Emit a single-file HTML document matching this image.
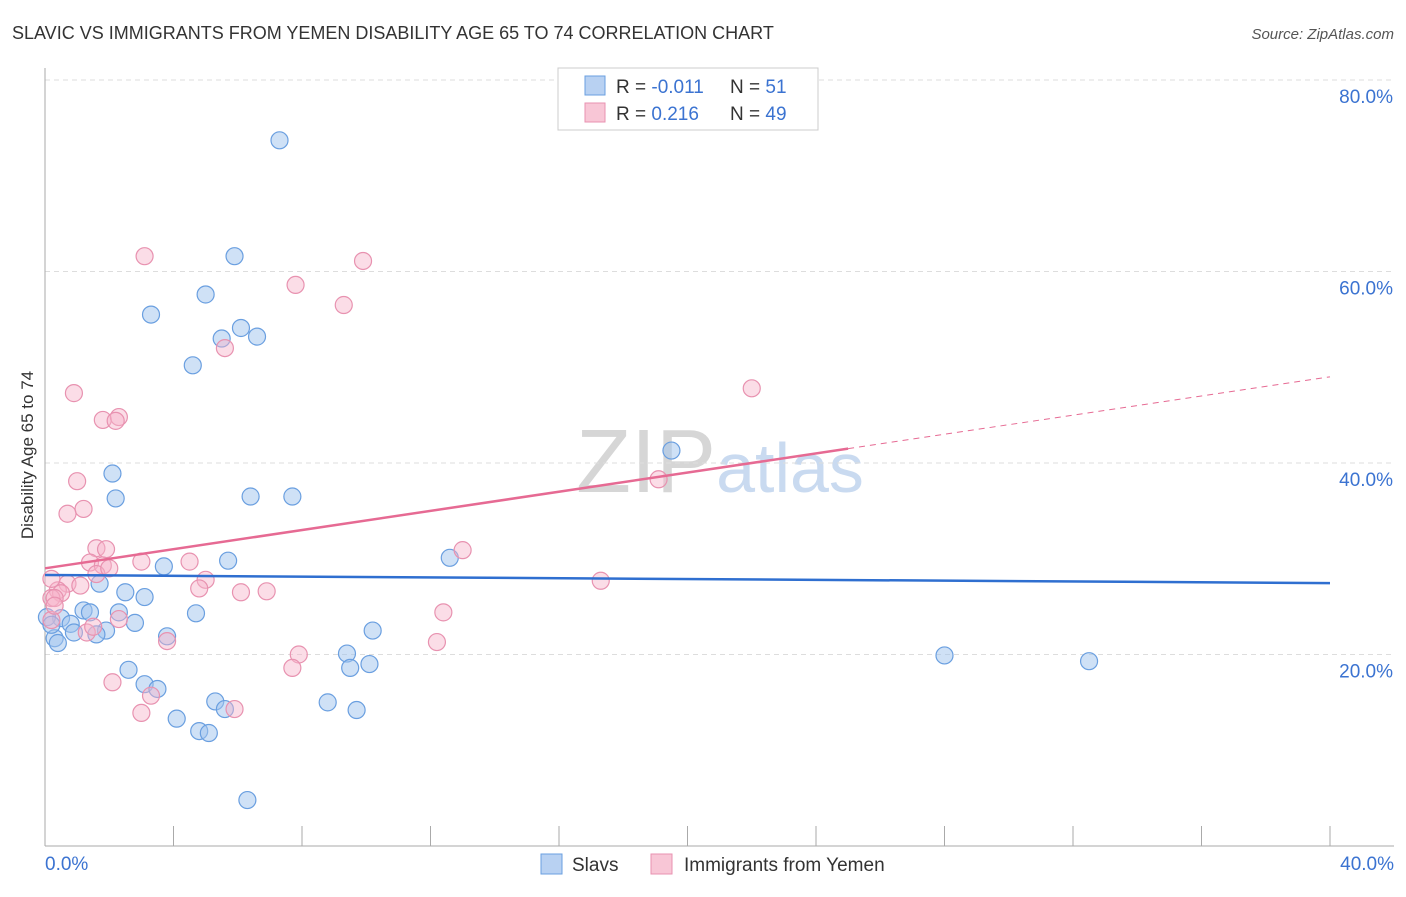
<!DOCTYPE html>
<html><head><meta charset="utf-8"><style>
body{margin:0;background:#fff;font-family:"Liberation Sans",sans-serif;}
svg text{font-family:"Liberation Sans",sans-serif;}
</style></head><body>
<svg id="chart" width="1406" height="892">
<text x="12" y="39" font-size="18" fill="#333">SLAVIC VS IMMIGRANTS FROM YEMEN DISABILITY AGE 65 TO 74 CORRELATION CHART</text>
<text x="1394" y="39" font-size="15" fill="#555" text-anchor="end" font-style="italic">Source: ZipAtlas.com</text>
<text x="720" y="492" font-size="90" fill="#d8d8d8" text-anchor="middle" font-family="Liberation Serif"><tspan fill="#d6d6d6">ZIP</tspan><tspan fill="#c9daf0" font-family="Liberation Sans" font-size="70">atlas</tspan></text>
<g id="grid"></g><g id="marks"></g>
<text transform="translate(33,455) rotate(-90)" font-size="17" fill="#333" text-anchor="middle">Disability Age 65 to 74</text>
<g>
<rect x="558" y="68" width="260" height="62" fill="#fff" stroke="#ccc"/>
<rect x="585" y="76" width="20" height="19" fill="#b8d1f2" stroke="#6a9fe0"/>
<rect x="585" y="103" width="20" height="19" fill="#f8c6d6" stroke="#e892b0"/>
<text x="616" y="93" font-size="19" fill="#333">R = <tspan fill="#3b73d1">-0.011</tspan></text>
<text x="730" y="93" font-size="19" fill="#333">N = <tspan fill="#3b73d1"> 51</tspan></text>
<text x="616" y="120" font-size="19" fill="#333">R = <tspan fill="#3b73d1"> 0.216</tspan></text>
<text x="730" y="120" font-size="19" fill="#333">N = <tspan fill="#3b73d1">49</tspan></text>
</g>
<g>
<rect x="541" y="854" width="21" height="20" fill="#b8d1f2" stroke="#6a9fe0"/>
<text x="572" y="871" font-size="19" fill="#333">Slavs</text>
<rect x="651" y="854" width="21" height="20" fill="#f8c6d6" stroke="#e892b0"/>
<text x="684" y="871" font-size="19" fill="#333">Immigrants from Yemen</text>
</g>
</svg>
<script>
const xTicks=[0,40];
const yTicks=[20,40,60,80];
const slavsX=[7.3,5.9,5.0,3.3,6.1,6.6,5.5,4.6,19.5,2.1,2.2,6.4,7.7,12.6,5.7,3.7,1.7,2.5,3.1,1.2,1.4,2.3,4.7,0.5,0.8,2.8,1.9,1.6,0.9,0.3,3.8,0.4,10.2,9.4,9.5,10.1,2.6,3.1,3.5,5.3,5.6,8.8,9.7,4.1,4.8,5.1,6.3,28.0,32.5,0.06,0.2];
const slavsY=[73.7,61.6,57.6,55.5,54.1,53.2,53.0,50.2,41.3,38.9,36.3,36.5,36.5,30.1,29.8,29.2,27.4,26.5,26.0,24.6,24.4,24.4,24.3,23.8,23.2,23.3,22.5,22.1,22.3,21.7,21.9,21.2,22.5,20.1,18.6,19.0,18.4,16.9,16.4,15.1,14.3,15.0,14.2,13.3,12.0,11.8,4.8,19.9,19.3,23.9,23.1];
const yemenX=[3.1,9.9,7.8,9.3,5.6,22.0,0.9,1.8,2.3,2.2,1.0,1.2,0.7,13.0,1.6,1.9,3.0,4.5,1.4,1.8,1.6,5.0,0.7,1.1,0.4,0.5,6.1,6.9,4.8,0.2,17.3,12.4,0.2,0.3,2.3,1.3,1.5,12.2,3.8,7.9,7.7,2.1,3.3,3.0,5.9,19.1,0.2,2.0,0.3];
const yemenY=[61.6,61.1,58.6,56.5,52.0,47.8,47.3,44.5,44.8,44.4,38.1,35.2,34.7,30.9,31.1,31.0,29.7,29.7,29.6,29.3,28.4,27.8,27.4,27.2,26.7,26.4,26.5,26.6,26.9,27.9,27.7,24.4,25.9,25.9,23.7,22.3,22.9,21.3,21.4,20.0,18.6,17.1,15.7,13.9,14.3,38.3,23.6,29.0,25.1];
const slavsTrend=[28.3,-0.021];
const yemenTrend=[29.0,0.5];
const ns="http://www.w3.org/2000/svg";
const X=v=>45+v*32.125, Y=v=>846-v*9.575;
const grid=document.getElementById('grid'), marks=document.getElementById('marks');
function mk(tag,attrs,parent){const e=document.createElementNS(ns,tag);for(const k in attrs)e.setAttribute(k,attrs[k]);parent.appendChild(e);return e;}
yTicks.forEach(t=>{
 const l=mk('line',{x1:45,x2:1394,y1:Y(t),y2:Y(t),stroke:'#ddd','stroke-dasharray':'5,4'},grid);
 
 
 const tx=mk('text',{x:1393,y:Y(t)+23,'font-size':19,fill:'#3b73d1','text-anchor':'end'},grid);
 tx.textContent=t.toFixed(1)+'%';
 
 
});
const ax=mk('line',{x1:45,x2:45,y1:68,y2:846,stroke:'#aaa'},grid);


const bx=mk('line',{x1:45,x2:1394,y1:846,y2:846,stroke:'#aaa'},grid);


for(let i=0;i<=10;i++){const t=mk('line',{x1:X(i*4),x2:X(i*4),y1:826,y2:846,stroke:'#aaa'},grid);
 
 }
xTicks.forEach((t,i)=>{const tx=mk('text',{x:i?1394:45,y:870,'font-size':19,fill:'#3b73d1','text-anchor':i?'end':'start'},grid);
 tx.textContent=t.toFixed(1)+'%';
 
 });
function pts(xs,ys,fill,stroke,name){xs.forEach((x,i)=>{const c=mk('circle',{cx:X(x),cy:Y(ys[i]),r:8.5,fill:fill,stroke:stroke,'stroke-width':1.2},marks);
 
 });}
pts(slavsX,slavsY,'rgba(160,195,238,0.5)','#6a9fe0','slavs-point');
pts(yemenX,yemenY,'rgba(246,180,202,0.45)','#e892b0','yemen-point');
const sl=mk('line',{x1:X(0),y1:Y(slavsTrend[0]),x2:X(40),y2:Y(slavsTrend[0]+40*slavsTrend[1]),stroke:'#2f6fd0','stroke-width':2.5},marks);


const yl=mk('line',{x1:X(0),y1:Y(yemenTrend[0]),x2:X(25),y2:Y(yemenTrend[0]+25*yemenTrend[1]),stroke:'#e66a93','stroke-width':2.5},marks);


const yd=mk('line',{x1:X(25),y1:Y(yemenTrend[0]+25*yemenTrend[1]),x2:X(40),y2:Y(yemenTrend[0]+40*yemenTrend[1]),stroke:'#e66a93','stroke-width':1,'stroke-dasharray':'6,5'},marks);


</script>
</body></html>
